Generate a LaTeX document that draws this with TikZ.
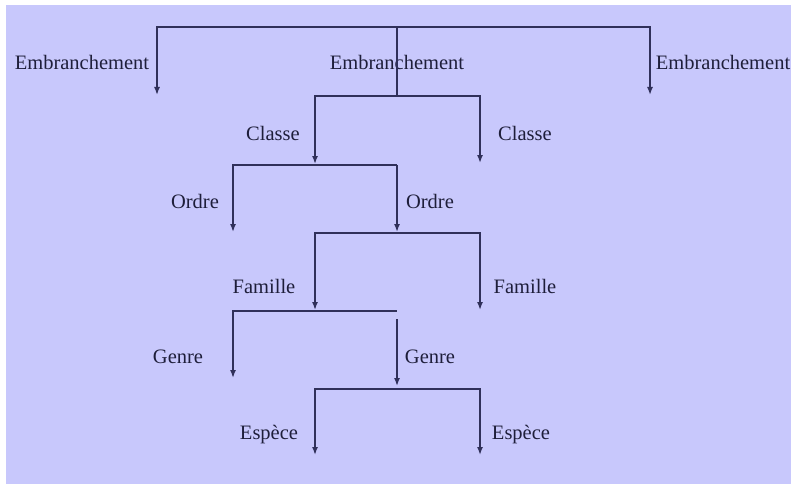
\documentclass[tikz,border=0pt]{standalone}
\usepackage{fontspec}
\setmainfont{Liberation Serif}
\usetikzlibrary{arrows.meta}
\definecolor{bg}{RGB}{200,200,252}
\definecolor{ln}{RGB}{48,48,90}
\definecolor{tx}{RGB}{30,30,58}
\begin{document}
\begin{tikzpicture}[x=1pt,y=-1pt,
  lbl/.style={font=\fontsize{20.5}{24}\selectfont, text=tx, inner sep=0pt, anchor=base},
  link/.style={draw=ln, line width=1.5pt, line join=miter},
  arr/.style={link, -{Latex[length=8pt,width=6pt]}}]
\useasboundingbox (0,0) rectangle (791,484);
\fill[white] (0,0) rectangle (791,484);
\fill[bg] (6,5) rectangle (791,484);

% labels
\node[lbl] (e1) at (82,70) {Embranchement};
\node[lbl] (e2) at (397,70) {Embranchement};
\node[lbl] (e3) at (723,70) {Embranchement};
\node[lbl] (c1) at (273,140) {Classe};
\node[lbl] (c2) at (525,140) {Classe};
\node[lbl] (o1) at (195,208) {Ordre};
\node[lbl] (o2) at (430,208) {Ordre};
\node[lbl] (f1) at (264,293) {Famille};
\node[lbl] (f2) at (525,293) {Famille};
\node[lbl] (g1) at (178,363) {Genre};
\node[lbl] (g2) at (430,363) {Genre};
\node[lbl] (s1) at (269,439) {Espèce};
\node[lbl] (s2) at (521,439) {Espèce};

% junction coordinates
\coordinate (tc) at (397,27);
\coordinate (tl) at (157,27);
\coordinate (tr) at (650,27);
\coordinate (e1t) at (157,95);
\coordinate (e3t) at (650,95);
\coordinate (cc) at (397,96);
\coordinate (cl) at (315,96);
\coordinate (cr) at (480,96);
\coordinate (c1t) at (315,164);
\coordinate (c2t) at (480,163);
\coordinate (oc) at (315,165);
\coordinate (ol) at (233,165);
\coordinate (or) at (397,165);
\coordinate (o1t) at (233,232);
\coordinate (o2t) at (397,232);
\coordinate (fc) at (397,233);
\coordinate (fl) at (315,233);
\coordinate (fr) at (480,233);
\coordinate (f1t) at (315,310);
\coordinate (f2t) at (480,310);
\coordinate (gc) at (315,311);
\coordinate (gl) at (233,311);
\coordinate (gr) at (397,311);
\coordinate (grs) at (397,319);
\coordinate (g1t) at (233,378);
\coordinate (g2t) at (397,386);
\coordinate (sc) at (397,389);
\coordinate (sl) at (315,389);
\coordinate (sr) at (480,389);
\coordinate (s1t) at (315,455);
\coordinate (s2t) at (480,455);

% connectors
\draw[arr] (tc) -- (tl) -- (e1t);
\draw[arr] (tc) -- (tr) -- (e3t);
\draw[link] (tc) -- (cc);

\draw[arr] (cc) -- (cl) -- (c1t);
\draw[arr] (cc) -- (cr) -- (c2t);

\draw[arr] (oc) -- (ol) -- (o1t);
\draw[link] (oc) -- (or);
\draw[arr] (or) -- (o2t);

\draw[arr] (fc) -- (fl) -- (f1t);
\draw[arr] (fc) -- (fr) -- (f2t);

\draw[arr] (gc) -- (gl) -- (g1t);
\draw[link] (gc) -- (gr);
\draw[arr] (grs) -- (g2t);

\draw[arr] (sc) -- (sl) -- (s1t);
\draw[arr] (sc) -- (sr) -- (s2t);
\end{tikzpicture}
\end{document}
